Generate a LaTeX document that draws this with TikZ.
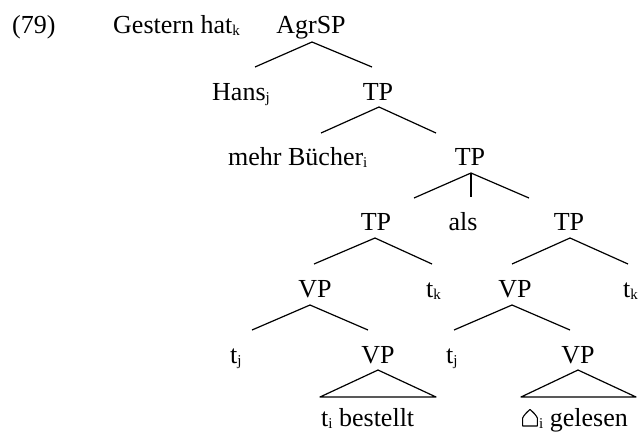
\documentclass[tikz,border=0pt]{standalone}
\usepackage{fontspec}
\setmainfont{Liberation Serif}
\usetikzlibrary{calc}
\newcommand\sbs[1]{\raisebox{-2.5pt}{\fontsize{15}{15}\selectfont #1}}
\begin{document}
\begin{tikzpicture}[x=1pt,y=-1pt,
  every node/.style={inner sep=0pt, font=\fontsize{26}{30}\selectfont},
  lbl/.style={anchor=base},
  lblw/.style={anchor=base west},
  edge/.style={line width=1.2pt, line join=round}]
\useasboundingbox (0,0) rectangle (642,432);
% row 0
\node[lblw] (n79) at (12,33) {(79)};
\node[lblw] (gestern) at (113,33) {Gestern hat\sbs{k}};
\node[lbl] (agr) at (311,33) {AgrSP};
% row 1
\node[lblw] (hans) at (212,100) {Hans\sbs{j}};
\node[lbl] (tp1) at (378,100) {TP};
% row 2
\node[lblw] (mehr) at (228,165) {mehr Bücher\sbs{i}};
\node[lbl] (tp2) at (470,165) {TP};
% row 3
\node[lbl] (tp3) at (376,230) {TP};
\node[lbl] (als) at (463,230) {als};
\node[lbl] (tp4) at (569,230) {TP};
% row 4
\node[lbl] (vp1) at (315,297) {VP};
\node[lblw] (tk1) at (426,297) {t\sbs{k}};
\node[lbl] (vp2) at (515,297) {VP};
\node[lblw] (tk2) at (623,297) {t\sbs{k}};
% row 5
\node[lblw] (tj1) at (230,363) {t\sbs{j}};
\node[lbl] (vp3) at (378,363) {VP};
\node[lblw] (tj2) at (446,363) {t\sbs{j}};
\node[lbl] (vp4) at (578,363) {VP};
% row 6
\node[lblw] (bestellt) at (321,426) {t\sbs{i} bestellt};
\node[lblw] (gelesen) at (522,426) {\hspace{17pt}\sbs{i}\ gelesen};
% house symbol
\draw[line width=1.1pt, line join=round]
  ($(gelesen.base west)+(0.6,0)$) -- ($(gelesen.base west)+(0.6,-8)$)
  .. controls ($(gelesen.base west)+(2,-11)$) and ($(gelesen.base west)+(5,-14)$) .. ($(gelesen.base west)+(8,-16.5)$)
  .. controls ($(gelesen.base west)+(11,-14)$) and ($(gelesen.base west)+(14,-11)$) .. ($(gelesen.base west)+(15.4,-8)$)
  -- ($(gelesen.base west)+(15.4,0)$) -- cycle;
% edges
\draw[edge] ($(hans.base west)+(43,-33)$) -- ($(agr.base)+(1,9)$) -- ($(tp1.base)+(-6,-33)$);
\draw[edge] ($(mehr.base west)+(93,-32)$) -- ($(tp1.base)+(1,7)$) -- ($(tp2.base)+(-34,-32)$);
\draw[edge] ($(tp3.base)+(38,-32)$) -- ($(tp2.base)+(1,8)$) -- ($(tp4.base)+(-40,-32)$);
\draw[edge] ($(tp2.base)+(1,8)$) -- ($(als.base)+(8,-33)$);
\draw[edge] ($(vp1.base)+(-1,-33)$) -- ($(tp3.base)+(-1,8)$) -- ($(tk1.base west)+(6,-33)$);
\draw[edge] ($(vp2.base)+(-3,-33)$) -- ($(tp4.base)+(1,8)$) -- ($(tk2.base west)+(5,-33)$);
\draw[edge] ($(tj1.base west)+(22,-33)$) -- ($(vp1.base)+(-5,8)$) -- ($(vp3.base)+(-10,-33)$);
\draw[edge] ($(tj2.base west)+(8,-33)$) -- ($(vp2.base)+(-3,8)$) -- ($(vp4.base)+(-8,-33)$);
\draw[edge] ($(vp3.base)+(0,7)$) -- ($(bestellt.base west)+(-1,-29)$) -- ($(bestellt.base west)+(115,-29)$) -- cycle;
\draw[edge] ($(vp4.base)+(0,7)$) -- ($(gelesen.base west)+(-1,-29)$) -- ($(gelesen.base west)+(114,-29)$) -- cycle;
\end{tikzpicture}
\end{document}
